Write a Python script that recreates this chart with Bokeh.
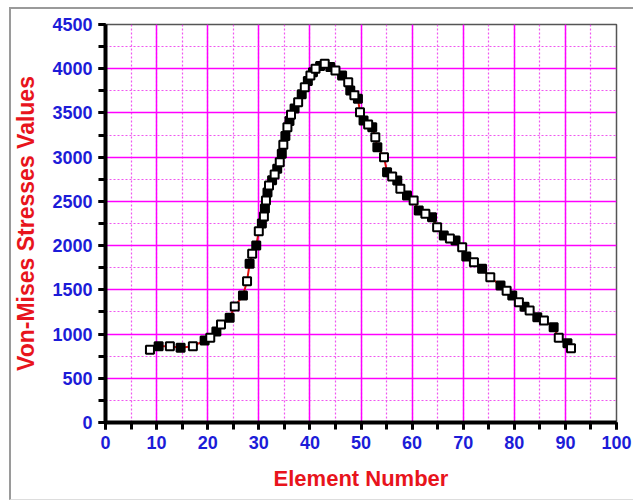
from bokeh.plotting import figure
from bokeh.models import SingleIntervalTicker, Range1d, InlineStyleSheet
from bokeh.embed import file_html
from bokeh.resources import INLINE

element = [8.7, 10.4, 12.6, 14.7, 17.1, 19.4, 20.5, 21.7, 22.6, 24.3, 25.3, 26.9, 27.7, 28.2, 28.7,
           29.5, 30.0, 30.6, 31.0, 31.2, 31.4, 31.7, 32.0, 32.6, 33.1, 33.6, 34.1, 34.5, 34.8, 35.2,
           35.6, 36.0, 36.3, 37.0, 37.7, 38.4, 39.0, 39.6, 40.1, 40.6, 41.1, 42.0, 42.9, 44.0, 45.0,
           46.3, 47.5, 47.9, 48.7, 49.4, 49.8, 50.5, 51.4, 52.2, 52.8, 53.2, 54.5, 55.1, 56.1, 57.1,
           57.7, 59.0, 60.3, 61.3, 62.6, 63.9, 64.9, 66.2, 67.4, 68.5, 69.8, 70.6, 72.1, 73.7, 75.3,
           77.3, 78.5, 79.6, 80.9, 82.0, 83.0, 84.5, 85.8, 87.7, 88.7, 90.4, 91.1]
stress = [822, 863, 863, 845, 863, 927, 957, 1029, 1108, 1184, 1312, 1436, 1598, 1794, 1907,
          2000, 2163, 2250, 2329, 2420, 2510, 2600, 2680, 2740, 2804, 2870, 2943, 3040, 3140, 3240,
          3339, 3410, 3479, 3550, 3622, 3710, 3791, 3860, 3924, 3960, 3999, 4030, 4056, 4020, 3980,
          3924, 3848, 3754, 3700, 3660, 3509, 3415, 3370, 3339, 3226, 3113, 3000, 2830, 2780, 2736,
          2642, 2567, 2510, 2397, 2360, 2321, 2208, 2114, 2080, 2058, 1982, 1877, 1813, 1738, 1643,
          1549, 1490, 1436, 1360, 1310, 1266, 1191, 1153, 1078, 957, 897, 840]

x_label = "Element Number"
y_label = "Von-Mises Stresses Values"

frame_css = InlineStyleSheet(css=""":host::after {
  content: ''; position: absolute; left: 9px; top: 7px; right: -10px; bottom: 3px;
  border-left: 2px solid #9a9a9a; border-top: 2px solid #9a9a9a; border-bottom: 1px solid #dddddd;
  pointer-events: none; }""")

p = figure(width=633, height=503, output_backend="svg", toolbar_location=None,
           x_range=Range1d(0, 100), y_range=Range1d(0, 4500),
           min_border_left=105, min_border_right=17, min_border_top=24, min_border_bottom=81,
           stylesheets=[frame_css])

p.background_fill_color = "white"
p.border_fill_color = "white"
p.outline_line_color = "#555555"
p.outline_line_width = 1.5

xt = SingleIntervalTicker(interval=10, num_minor_ticks=2)
yt = SingleIntervalTicker(interval=500, num_minor_ticks=2)
p.xaxis.ticker = xt
p.yaxis.ticker = yt
p.xgrid.ticker = xt
p.ygrid.ticker = yt

for g in (p.xgrid, p.ygrid):
    g.grid_line_color = "#ff00ff"
    g.grid_line_width = 1.5
    g.grid_line_alpha = 1.0
    g.minor_grid_line_color = "#ee44ee"
    g.minor_grid_line_width = 1.2
    g.minor_grid_line_dash = "2 2"
    g.minor_grid_line_alpha = 0.9

for ax in (p.xaxis, p.yaxis):
    ax.axis_line_color = "black"
    ax.axis_line_width = 4
    ax.major_tick_line_color = "black"
    ax.major_tick_line_width = 3
    ax.major_tick_out = 7
    ax.major_tick_in = 0
    ax.minor_tick_line_color = "black"
    ax.minor_tick_line_width = 3
    ax.minor_tick_out = 7
    ax.minor_tick_in = 0
    ax.major_label_text_font = "Liberation Sans"
    ax.major_label_text_font_style = "bold"
    ax.major_label_text_font_size = "18px"
    ax.major_label_text_color = "#1c1cd8"
    ax.axis_label_text_font = "Liberation Sans"
    ax.axis_label_text_font_style = "bold"
    ax.axis_label_text_color = "#e8141c"

p.xaxis.axis_label = x_label
p.yaxis.axis_label = y_label
p.xaxis.axis_label_text_font_size = "22px"
p.yaxis.axis_label_text_font_size = "23px"
p.xaxis.major_label_standoff = 6
p.xaxis.axis_label_standoff = 14
p.yaxis.major_label_standoff = 6
p.yaxis.axis_label_standoff = 10

p.line(element, stress, line_color="#e01010", line_width=2)
p.scatter(element[1::2], stress[1::2], marker="square", size=8, fill_color="black",
          line_color="black", line_width=2)
p.scatter(element[0::2], stress[0::2], marker="square", size=8, fill_color="white",
          line_color="black", line_width=2)

open("out.html", "w").write(file_html(p, INLINE))
